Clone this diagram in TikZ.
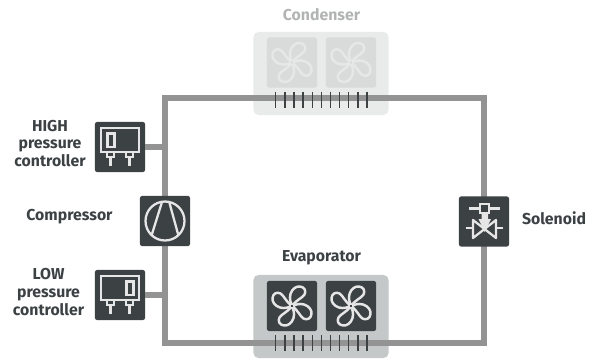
\documentclass[tikz,border=0pt]{standalone}
\usepackage{fontspec}
\setmainfont{Fira Sans}
\usetikzlibrary{positioning}
\definecolor{darkbox}{HTML}{3C4144}
\definecolor{iconline}{HTML}{E6E6E6}
\definecolor{pipegray}{HTML}{939393}
\definecolor{evapbox}{HTML}{C4C8C8}
\definecolor{condbox}{HTML}{E9EBEB}
\definecolor{condfan}{HTML}{D9DADA}
\definecolor{condline}{HTML}{E6E8E8}
\definecolor{condtext}{HTML}{B2B4B4}
\tikzset{
  icon/.style={fill=darkbox,rounded corners=1.2pt,minimum size=28.5pt,inner sep=0pt},
  unit/.style={rounded corners=3pt,minimum width=77pt,minimum height=47.3pt,inner sep=0pt},
  pipe/.style={draw=pipegray,line width=2.9pt},
  label/.style={font=\fontsize{9}{10}\selectfont\bfseries,text=darkbox,align=center,inner sep=0pt},
  glyph/.style={draw=iconline,line width=1.3pt},
  petal/.style={line width=1.4pt,line join=round}
}
% fan icon: box colour, line colour, centre
\newcommand{\fanicon}[5]{
  \node[fill=#3,rounded corners=1.2pt,minimum size=28.5pt,inner sep=0pt] (#1) at (#5) {};
  \begin{scope}[shift={(#5)},draw=#4]
    \foreach \a in {0,90,180,270}
      \draw[petal,rotate=\a] (0,0) .. controls (-1,-3) and (-3,-7) .. (-1.5,-12) .. controls (0,-17) and (4,-20) .. (8,-19.5) .. controls (12.5,-19) and (14.5,-15) .. (12.5,-11.5) .. controls (10.5,-8) and (4,-6) .. (0,0);
    \filldraw[fill=#3,line width=0.7pt] (0,0) circle (2);
  \end{scope}
}
% controller drawing: centre of box, x of switch
\newcommand{\controller}[2]{
  \begin{scope}[shift={(#1)}]
    \draw[glyph] (-18.7,-18.7) rectangle (18.7,4.7);
    \draw[glyph,fill=darkbox] (#2-3.6,-13.5) rectangle (#2+3.6,0);
    \foreach \k in {-9.5,9.5} {
      \draw[glyph] (\k-3.5,4.7) -- (\k-3.5,10) -- (\k+3.5,10) -- (\k+3.5,4.7);
      \draw[glyph,line width=1.9pt] (\k,10) -- (\k,19);
    }
  \end{scope}
}
\begin{document}
\begin{tikzpicture}[x=0.02cm,y=-0.02cm]
    \useasboundingbox (0,0) rectangle (601,358);

    \node[unit,fill=condbox] (condenser) at (321,73.5) {};
    \node[unit,fill=evapbox] (evaporator) at (321,316.5) {};

    \coordinate (topleft) at (165,98);
    \coordinate (topright) at (484,98);
    \coordinate (botright) at (484,343);
    \coordinate (botleft) at (165,343);
    \node[icon] (high) at (120,147) {};
    \node[icon] (low) at (120,295) {};
    \draw[pipe] (high.east) -- (high.east -| topleft);
    \draw[pipe] (low.east) -- (low.east -| topleft);
    \draw[pipe,line cap=rect] (topleft) -- (topright) -- (botright) -- (botleft) -- cycle;

    \node[icon] (compressor) at (165,221) {};
    \node[icon] (solenoid) at (484,221.5) {};

    \fanicon{fanA}{}{condfan}{condline}{292,62.5}
    \fanicon{fanB}{}{condfan}{condline}{351,62.5}
    \fanicon{fanC}{}{darkbox}{iconline}{292,306}
    \fanicon{fanD}{}{darkbox}{iconline}{351,306}

    \foreach \i in {0,...,10} {
      \draw[darkbox,line width=0.8pt] (275.7+\i*9.13,92) -- (275.7+\i*9.13,107.7);
      \draw[darkbox,line width=0.8pt] (275.7+\i*9.13,335) -- (275.7+\i*9.13,351);
    }

    \controller{120,147}{-9}
    \controller{120,295}{10}

    % compressor
    \draw[glyph] (compressor.center) circle (19.5);
    \draw[glyph] (151.7,235) -- (161.7,203);
    \draw[glyph] (178.3,235) -- (169.5,203);

    % solenoid
    \draw[glyph] (480.2,204.2) rectangle (489.2,212.8);
    \draw[glyph] (469,208.5) -- (480.2,208.5);
    \draw[glyph] (489.2,208.5) -- (500,208.5);
    \fill[iconline] (481.5,212.8) -- (488,212.8) -- (488,219) -- (491,219) -- (484.7,232) -- (478.5,219) -- (481.5,219) -- cycle;
    \draw[glyph,line join=round] (473,220) -- (473,238) -- (496,220) -- (496,238) -- cycle;
    \draw[glyph] (465.5,227.7) -- (473,227.7);
    \draw[glyph] (496,227.7) -- (503,227.7);

    \node[label,text=condtext] (condensertext) at (321.5,15) {Condenser};
    \node[label] (evaporatortext) at (321.5,258) {Evaporator};
    \node[label] (hightext) at (50,143.5) {HIGH\\pressure\\controller};
    \node[label] (compressortext) at (69.5,217) {Compressor};
    \node[label] (lowtext) at (48.5,292) {LOW\\pressure\\controller};
    \node[label] (solenoidtext) at (554,218) {Solenoid};
\end{tikzpicture}
\end{document}
